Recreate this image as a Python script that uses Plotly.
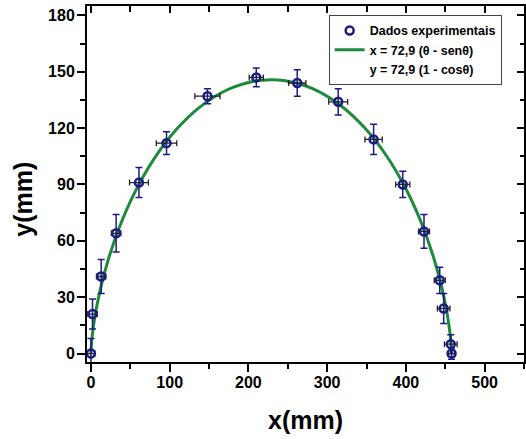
import plotly.graph_objects as go

x_data = [0, 2, 13, 32, 61, 96, 148, 210, 262, 314, 359, 396, 423, 443, 448, 457, 458]
y_data = [0, 21, 41, 64, 91, 112, 137, 147, 144, 134, 114, 90, 65, 39, 24, 5, 0]
x_err = [5, 6, 6, 6, 12, 13, 16, 9, 11, 12, 11, 9, 7, 7, 8, 8, 4]
y_err = [8, 8, 9, 10, 8, 6, 4, 5, 7, 7, 8, 7, 9, 7, 8, 5, 3]

# Fitted curve
x_fit = [0, 0.19, 1.50, 4.98, 11.56, 21.94, 36.63, 55.84, 79.51, 107.30, 138.62,
         172.65, 208.41, 229.02, 244.81, 280.72, 315.04, 346.77, 375.07, 399.31,
         419.12, 434.41, 445.34, 452.38, 456.23, 457.77, 458.04]
y_fit = [0, 2.27, 8.92, 19.56, 33.51, 49.91, 67.74, 85.89, 103.24, 118.69, 131.30,
         140.28, 145.07, 145.80, 145.37, 141.17, 132.72, 120.55, 105.42, 88.27,
         70.16, 52.22, 35.57, 21.24, 10.12, 2.90, 0]

x_ticks = [0, 100, 200, 300, 400, 500]
y_ticks = [0, 30, 60, 90, 120, 150, 180]

NAVY = "#1c1c80"
GREEN = "#1e8a3c"
FONT = "Liberation Sans"

fig = go.Figure()

fig.add_trace(go.Scatter(
    x=x_fit, y=y_fit, mode="lines", line=dict(color=GREEN, width=3, shape="spline"),
    name="x = 72,9 (θ - senθ)", legendrank=2, hoverinfo="skip"))

fig.add_trace(go.Scatter(
    x=x_data, y=y_data, mode="markers",
    marker=dict(symbol="circle-open", size=8, color=NAVY, line=dict(width=2.5, color=NAVY)),
    error_y=dict(type="data", array=y_err, color=NAVY, thickness=1.5, width=3.5),
    error_x=dict(type="data", array=x_err, color="#222222", thickness=1.3, width=3),
    name="Dados experimentais", legendrank=1))

fig.add_trace(go.Scatter(
    x=[None], y=[None], mode="lines", line=dict(color="rgba(0,0,0,0)", width=0),
    name="y = 72,9 (1 - cosθ)", legendrank=3))

# dummy trace to host the mirrored (inside-tick) axes
fig.add_trace(go.Scatter(x=[None], y=[None], xaxis="x2", yaxis="y2",
                         showlegend=False, hoverinfo="skip"))

XR = [-5, 550]
YR = [-4.5, 185]
tickfont = dict(family=FONT, size=16, color="black", weight="bold")

fig.update_layout(
    width=526, height=439,
    margin=dict(l=87, r=2, t=6, b=77),
    paper_bgcolor="white", plot_bgcolor="white",
    showlegend=True,
    legend=dict(x=0.553, y=0.975, xanchor="left", yanchor="top",
                bordercolor="#444444", borderwidth=1, bgcolor="white",
                font=dict(family=FONT, size=12.5, color="black", weight="bold"),
                tracegroupgap=0, itemwidth=30),
    xaxis=dict(range=XR, tickvals=x_ticks, ticks="outside", ticklen=8, tickwidth=2,
               tickcolor="black", showline=True, linewidth=2, linecolor="black",
               showgrid=False, zeroline=False, tickfont=tickfont, ticklabelstandoff=-3,
               minor=dict(dtick=50, tick0=0, ticks="outside", ticklen=5, tickwidth=2,
                          tickcolor="black", showgrid=False)),
    yaxis=dict(range=YR, tickvals=y_ticks, ticks="outside", ticklen=8, tickwidth=2,
               tickcolor="black", showline=True, linewidth=2, linecolor="black",
               showgrid=False, zeroline=False, tickfont=tickfont, ticklabelstandoff=-1,
               minor=dict(dtick=15, tick0=0, ticks="outside", ticklen=5, tickwidth=2,
                          tickcolor="black", showgrid=False)),
    xaxis2=dict(range=XR, overlaying="x", side="top", anchor="y2", tickvals=x_ticks,
                ticks="inside", ticklen=7, tickwidth=2, tickcolor="black",
                showticklabels=False, showline=True, linewidth=2, linecolor="black",
                showgrid=False, zeroline=False,
                minor=dict(dtick=50, tick0=0, ticks="inside", ticklen=6, tickwidth=2,
                           tickcolor="black", showgrid=False)),
    yaxis2=dict(range=YR, overlaying="y", side="right", anchor="x2", tickvals=y_ticks,
                ticks="inside", ticklen=7, tickwidth=2, tickcolor="black",
                showticklabels=False, showline=True, linewidth=2, linecolor="black",
                showgrid=False, zeroline=False,
                minor=dict(dtick=15, tick0=0, ticks="inside", ticklen=4, tickwidth=2,
                           tickcolor="black", showgrid=False)),
    annotations=[
        dict(text="x(mm)", xref="paper", yref="paper", x=0.5, y=-0.163,
             xanchor="center", yanchor="middle", showarrow=False,
             font=dict(family=FONT, size=25, color="black", weight="bold")),
        dict(text="y(mm)", xref="paper", yref="paper", x=-0.147, y=0.458,
             xanchor="center", yanchor="middle", showarrow=False, textangle=-90,
             font=dict(family=FONT, size=25, color="black", weight="bold")),
    ],
)

fig.write_html("out.html", config={"displayModeBar": False},
               post_script="document.body.style.margin='0';document.body.style.padding='0';")
